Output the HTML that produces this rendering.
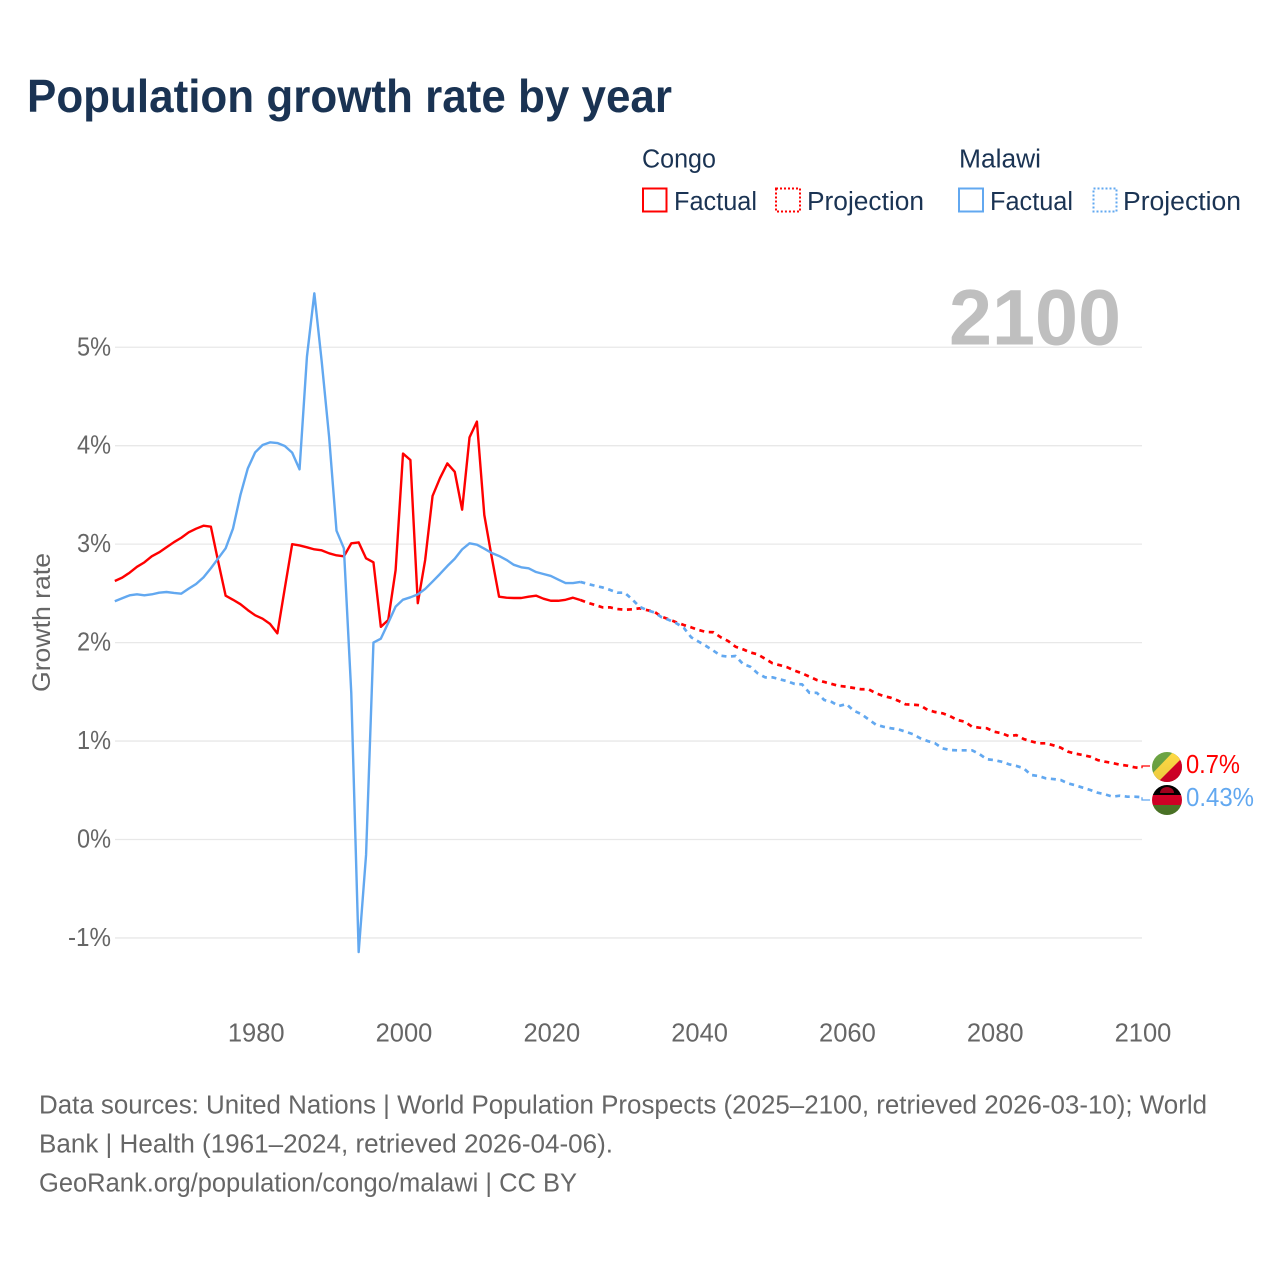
<!DOCTYPE html>
<html lang="en">
<head>
<meta charset="utf-8">
<title>Population growth rate by year</title>
<style>
  html, body { margin: 0; padding: 0; background: #fff; }
  svg { display: block; font-family: "Liberation Sans", sans-serif; }
  .legend-text { font-size: 25.5px; fill: #1a3353; }
  .foot { font-size: 25.5px; fill: #666; }
  .tick { font-size: 25.5px; fill: #666; }
</style>
</head>
<body>
<svg id="chart" width="1280" height="1280" viewBox="0 0 1280 1280" xmlns="http://www.w3.org/2000/svg">
  <rect x="0" y="0" width="1280" height="1280" fill="#fff"/>
  <text x="27" y="112" font-size="46.5" font-weight="700" fill="#1a3353" textLength="645" lengthAdjust="spacingAndGlyphs">Population growth rate by year</text>

  <g>
    <text class="legend-text" x="642" y="167.5" textLength="74" lengthAdjust="spacingAndGlyphs">Congo</text>
    <text class="legend-text" x="959" y="167.5" textLength="82" lengthAdjust="spacingAndGlyphs">Malawi</text>
    <rect x="643" y="188.5" width="23.5" height="23" fill="none" stroke="#ff0000" stroke-width="2"/>
    <text class="legend-text" x="674" y="210" textLength="83" lengthAdjust="spacingAndGlyphs">Factual</text>
    <rect x="776" y="188.5" width="24" height="23" fill="none" stroke="#ff0000" stroke-width="2" stroke-dasharray="2 2"/>
    <text class="legend-text" x="807" y="210" textLength="117" lengthAdjust="spacingAndGlyphs">Projection</text>
    <rect x="959" y="188.5" width="24" height="23" fill="none" stroke="#62a8f0" stroke-width="2"/>
    <text class="legend-text" x="990" y="210" textLength="83" lengthAdjust="spacingAndGlyphs">Factual</text>
    <rect x="1093.5" y="188.5" width="23" height="23" fill="none" stroke="#62a8f0" stroke-width="2" stroke-dasharray="2 2"/>
    <text class="legend-text" x="1123" y="210" textLength="118" lengthAdjust="spacingAndGlyphs">Projection</text>
  </g>

  <g id="grid"></g>
  <g id="yticks"></g>
  <g id="xticks"></g>
  <text x="0" y="0" transform="translate(50,692) rotate(-90)" font-size="25" fill="#666" textLength="139" lengthAdjust="spacingAndGlyphs">Growth rate</text>
  <text x="949" y="344.5" font-size="79" font-weight="700" fill="#bfbfbf" textLength="172" lengthAdjust="spacingAndGlyphs">2100</text>

  <g id="series"></g>

  <defs>
    <clipPath id="flag-clip-congo"><circle cx="1167" cy="767" r="15"/></clipPath>
    <clipPath id="flag-clip-malawi"><circle cx="1167" cy="800" r="15"/></clipPath>
    <linearGradient id="flag-shade" x1="0" y1="0" x2="0" y2="1">
      <stop offset="0" stop-color="#000" stop-opacity="0"/>
      <stop offset="1" stop-color="#000" stop-opacity="0.08"/>
    </linearGradient>
  </defs>
  <g clip-path="url(#flag-clip-congo)">
    <rect x="1152" y="752" width="30" height="30" fill="#6da544"/>
    <polygon points="1182,752 1182,782 1152,782" fill="#d80027"/>
    <polygon points="1173,752 1182,758 1158,782 1150,776" fill="#ffda44"/>
    <rect x="1152" y="752" width="30" height="30" fill="url(#flag-shade)"/>
  </g>
  <g clip-path="url(#flag-clip-malawi)">
    <rect x="1152" y="785" width="30" height="10" fill="#000"/>
    <rect x="1152" y="795" width="30" height="10" fill="#d80027"/>
    <rect x="1152" y="805" width="30" height="10" fill="#4f7a28"/>
    <path d="M1160,794 A7,6 0 0 1 1174,794 Z" fill="#a2001d" transform="translate(0,-1)"/>
    <rect x="1152" y="785" width="30" height="30" fill="url(#flag-shade)"/>
  </g>
  <g id="endlabels"></g>

  <g>
    <text class="foot" x="39" y="1113.5" textLength="1168" lengthAdjust="spacingAndGlyphs">Data sources: United Nations | World Population Prospects (2025–2100, retrieved 2026-03-10); World</text>
    <text class="foot" x="39" y="1152.5" textLength="574" lengthAdjust="spacingAndGlyphs">Bank | Health (1961–2024, retrieved 2026-04-06).</text>
    <text class="foot" x="39" y="1191.5" textLength="538" lengthAdjust="spacingAndGlyphs">GeoRank.org/population/congo/malawi | CC BY</text>
  </g>
</svg>
<script>
const factualStartYear = 1961;
const projectionStartYear = 2024;
const xTickYears = [1980, 2000, 2020, 2040, 2060, 2080, 2100];
const yTickValues = [-1, 0, 1, 2, 3, 4, 5];
const congoFactual = [2.626,2.66,2.71,2.77,2.815,2.876,2.917,2.968,3.02,3.065,3.12,3.157,3.187,3.178,2.82,2.476,2.435,2.39,2.33,2.277,2.243,2.19,2.094,2.55,3.0,2.987,2.968,2.947,2.937,2.907,2.886,2.876,3.008,3.018,2.856,2.815,2.16,2.23,2.737,3.92,3.855,2.4,2.84,3.49,3.67,3.82,3.735,3.35,4.085,4.245,3.296,2.87,2.466,2.456,2.453,2.453,2.466,2.477,2.446,2.425,2.425,2.435,2.456,2.433];
const malawiFactual = [2.42,2.45,2.48,2.49,2.48,2.49,2.507,2.514,2.504,2.497,2.548,2.595,2.663,2.755,2.856,2.958,3.16,3.5,3.77,3.933,4.007,4.034,4.027,3.997,3.93,3.76,4.904,5.548,4.854,4.09,3.137,2.958,1.488,-1.143,-0.157,2.0,2.04,2.2,2.365,2.436,2.46,2.49,2.545,2.62,2.697,2.778,2.852,2.947,3.008,2.995,2.954,2.91,2.88,2.84,2.79,2.765,2.755,2.717,2.697,2.677,2.64,2.605,2.605,2.616];
const congoProjection = [2.433,2.405,2.382,2.358,2.358,2.341,2.334,2.338,2.348,2.33,2.314,2.263,2.236,2.206,2.179,2.155,2.128,2.108,2.105,2.054,2.016,1.958,1.932,1.9,1.88,1.836,1.79,1.77,1.749,1.715,1.688,1.654,1.62,1.6,1.58,1.56,1.552,1.539,1.526,1.526,1.485,1.458,1.44,1.41,1.373,1.37,1.363,1.315,1.295,1.282,1.254,1.214,1.197,1.146,1.136,1.13,1.095,1.079,1.05,1.06,1.02,0.997,0.977,0.977,0.957,0.933,0.892,0.872,0.858,0.841,0.807,0.79,0.777,0.76,0.75,0.733,0.723];
const malawiProjection = [2.616,2.596,2.577,2.56,2.536,2.507,2.507,2.44,2.365,2.33,2.307,2.257,2.23,2.196,2.15,2.054,2.01,1.966,1.918,1.867,1.857,1.864,1.783,1.755,1.688,1.647,1.647,1.627,1.607,1.58,1.576,1.49,1.49,1.417,1.397,1.356,1.376,1.308,1.275,1.22,1.166,1.146,1.13,1.12,1.095,1.07,1.028,1.0,0.977,0.926,0.909,0.906,0.906,0.906,0.868,0.815,0.807,0.79,0.764,0.747,0.723,0.655,0.645,0.621,0.614,0.604,0.57,0.55,0.526,0.503,0.475,0.459,0.435,0.445,0.435,0.435,0.43];
const endLabelTexts = ['0.7%', '0.43%'];

const SVG_NS = 'http://www.w3.org/2000/svg';
const RED = '#ff0000';
const BLUE = '#62a8f0';
function xScale(year) { return 114.8 + (year - 1961) * (1142 - 114.8) / 139; }
function yScale(v) { return 839.5 - v * 98.45; }
function make(tag) { return document.createElementNS(SVG_NS, tag); }
function seriesPath(values, startYear) {
  return values.map(function (v, i) {
    return (i ? 'L' : 'M') + xScale(startYear + i).toFixed(2) + ',' + yScale(v).toFixed(2);
  }).join(' ');
}

const gridGroup = document.getElementById('grid');
const yTickGroup = document.getElementById('yticks');
yTickValues.forEach(function (v) {
  const line = make('line');
  
  
  line.setAttribute('x1', 115);
  line.setAttribute('x2', 1142);
  line.setAttribute('y1', yScale(v));
  line.setAttribute('y2', yScale(v));
  line.setAttribute('stroke', '#e8e8e8');
  line.setAttribute('stroke-width', 1.3);
  gridGroup.appendChild(line);

  const label = make('text');
  
  
  label.setAttribute('class', 'tick');
  label.setAttribute('x', 111);
  label.setAttribute('y', yScale(v) + 8);
  label.setAttribute('text-anchor', 'end');
  label.setAttribute('textLength', v < 0 ? 43 : 34);
  label.setAttribute('lengthAdjust', 'spacingAndGlyphs');
  label.textContent = v + '%';
  yTickGroup.appendChild(label);
});

const xTickGroup = document.getElementById('xticks');
xTickYears.forEach(function (year) {
  const label = make('text');
  
  
  label.setAttribute('class', 'tick');
  label.setAttribute('x', xScale(year) + 1);
  label.setAttribute('y', 1041.5);
  label.setAttribute('text-anchor', 'middle');
  label.textContent = year;
  xTickGroup.appendChild(label);
});

const seriesGroup = document.getElementById('series');
function addLine(name, values, startYear, color, dashed) {
  const path = make('path');
  
  
  path.setAttribute('d', seriesPath(values, startYear));
  path.setAttribute('fill', 'none');
  path.setAttribute('stroke', color);
  path.setAttribute('stroke-width', dashed ? 2.7 : 2.4);
  path.setAttribute('stroke-linejoin', 'round');
  if (dashed) path.setAttribute('stroke-dasharray', '5 4.6');
  seriesGroup.appendChild(path);
}
addLine('congo-factual-line', congoFactual, factualStartYear, RED, false);
addLine('malawi-factual-line', malawiFactual, factualStartYear, BLUE, false);
addLine('congo-projection-line', congoProjection, projectionStartYear, RED, true);
addLine('malawi-projection-line', malawiProjection, projectionStartYear, BLUE, true);

const endGroup = document.getElementById('endlabels');
function addEnd(name, lastValue, flagY, text, color, baseline, width) {
  const leader = make('path');
  
  
  leader.setAttribute('d', 'M1142,' + yScale(lastValue).toFixed(1) + ' V' + flagY + ' H1150');
  leader.setAttribute('fill', 'none');
  leader.setAttribute('stroke', color);
  leader.setAttribute('stroke-width', 1.3);
  endGroup.appendChild(leader);

  const label = make('text');
  
  
  label.setAttribute('x', 1186);
  label.setAttribute('y', baseline);
  label.setAttribute('font-size', 25.5);
  label.setAttribute('fill', color);
  label.setAttribute('textLength', width);
  label.setAttribute('lengthAdjust', 'spacingAndGlyphs');
  label.textContent = text;
  endGroup.appendChild(label);
}
addEnd('congo', congoProjection[congoProjection.length - 1], 766, endLabelTexts[0], RED, 773, 54);
addEnd('malawi', malawiProjection[malawiProjection.length - 1], 800, endLabelTexts[1], BLUE, 806, 68);
</script>
</body>
</html>
